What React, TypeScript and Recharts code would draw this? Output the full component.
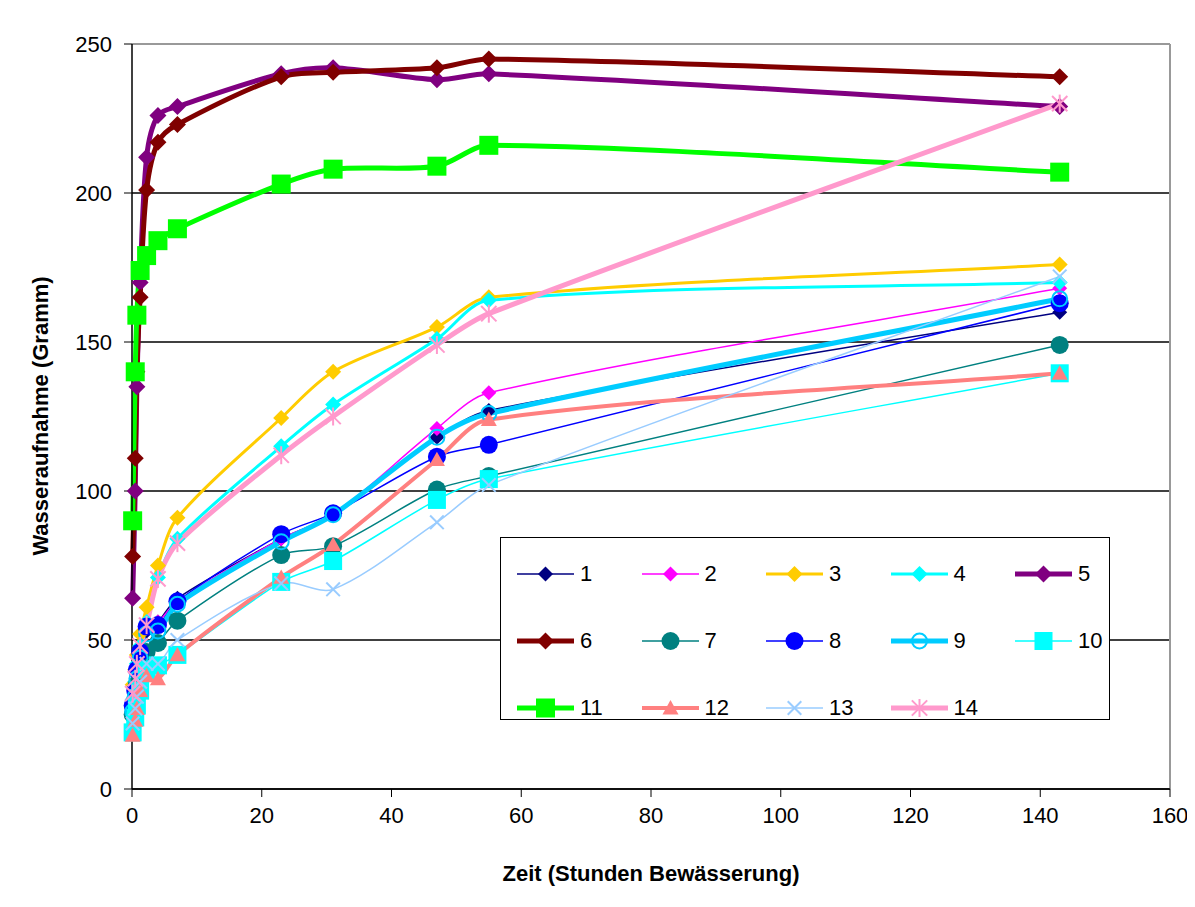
import React from "react";
import { LineChart, Line, XAxis, YAxis, CartesianGrid, ReferenceLine } from "recharts";

// hours of irrigation at each weighing
const hours = [0.1, 0.5, 0.75, 1.25, 2.25, 4, 7, 23, 31, 47, 55, 143];

// water uptake (gram) per sample
const s1 = [28, 33, 38, 45, 53, 56, 64, 84, 92, 118, 127, 160];
const s2 = [30, 35, 40, 46, 54, 56, 63, 84, 92, 121, 133, 168];
const s3 = [35, 40, 45, 52, 61, 75, 91, 124.5, 140, 155, 165, 176];
const s4 = [30, 36, 42, 48, 56, 71, 84, 115, 129, 151, 164, 170];
const s5 = [64, 100, 135, 170, 212, 226, 229, 240, 242, 238, 240, 229];
const s6 = [78, 111, 140, 165, 201, 217, 223, 239, 240.5, 242, 245, 239];
const s7 = [25, 30, 35, 41, 46, 49, 56.5, 78.5, 81.5, 100.5, 105, 149];
const s8 = [28, 33, 40, 46, 54.5, 55, 63, 85.5, 92.5, 111.5, 115.5, 163];
const s9 = [26, 31, 37, 44, 52, 53, 62, 83, 92, 118, 126, 164.5];
const s10 = [19, 24, 28, 33, 40, 41.5, 45, 69.5, 76.5, 97, 104, 139.5];
const s11 = [90, 140, 159, 174, 179, 184, 188, 203, 208, 209, 216, 207];
const s12 = [18, 23, 27, 33, 38, 37, 45, 71, 82, 110.5, 124, 139.5];
const s13 = [22, 27, 31, 36, 42, 42, 50, 69, 67, 89.5, 102, 172];
const s14 = [32, 37, 42, 48, 55, 70.5, 82.5, 112, 125, 149, 159.5, 230];

const xTicks = [0, 20, 40, 60, 80, 100, 120, 140, 160];
const yTicks = [0, 50, 100, 150, 200, 250];

const FONT = "'Liberation Sans', Arial, sans-serif";

type Shape = "diamond" | "circle" | "ring" | "square" | "triangle" | "cross" | "star";

const series: { key: string; name: string; values: number[]; color: string; width: number; shape: Shape; size: number }[] = [
  { key: "s1", name: "1", values: s1, color: "#000080", width: 1.5, shape: "diamond", size: 15 },
  { key: "s2", name: "2", values: s2, color: "#ff00ff", width: 1.5, shape: "diamond", size: 15 },
  { key: "s3", name: "3", values: s3, color: "#ffcc00", width: 3, shape: "diamond", size: 16 },
  { key: "s4", name: "4", values: s4, color: "#00ffff", width: 3, shape: "diamond", size: 16 },
  { key: "s5", name: "5", values: s5, color: "#800080", width: 5, shape: "diamond", size: 17 },
  { key: "s6", name: "6", values: s6, color: "#800000", width: 5, shape: "diamond", size: 17 },
  { key: "s7", name: "7", values: s7, color: "#008080", width: 1.5, shape: "circle", size: 18 },
  { key: "s8", name: "8", values: s8, color: "#0000ff", width: 1.5, shape: "circle", size: 18 },
  { key: "s9", name: "9", values: s9, color: "#00ccff", width: 5, shape: "ring", size: 18 },
  { key: "s10", name: "10", values: s10, color: "#00ffff", width: 1.5, shape: "square", size: 18 },
  { key: "s11", name: "11", values: s11, color: "#00ff00", width: 5, shape: "square", size: 19 },
  { key: "s12", name: "12", values: s12, color: "#ff8080", width: 4, shape: "triangle", size: 16 },
  { key: "s13", name: "13", values: s13, color: "#99ccff", width: 1.5, shape: "cross", size: 16 },
  { key: "s14", name: "14", values: s14, color: "#ff99cc", width: 5, shape: "star", size: 18 },
];

const rows = hours.map((h, i) => {
  const row: Record<string, number> = { h };
  series.forEach((s) => (row[s.key] = s.values[i]));
  return row;
});

// Excel-like smoothed line: tangent from neighbours, handle length from segment length
function smoothCurve(context: any) {
  let pts: [number, number][] = [];
  return {
    areaStart() {},
    areaEnd() {},
    lineStart() {
      pts = [];
    },
    point(x: number, y: number) {
      pts.push([+x, +y]);
    },
    lineEnd() {
      const n = pts.length;
      if (!n) return;
      context.moveTo(pts[0][0], pts[0][1]);
      if (n === 1) return;
      const tang = pts.map((_, i) => {
        const a = pts[Math.max(0, i - 1)];
        const b = pts[Math.min(n - 1, i + 1)];
        const dx = b[0] - a[0];
        const dy = b[1] - a[1];
        const l = Math.hypot(dx, dy) || 1;
        return [dx / l, dy / l];
      });
      for (let i = 0; i < n - 1; i++) {
        const p = pts[i];
        const q = pts[i + 1];
        const L = Math.hypot(q[0] - p[0], q[1] - p[1]) * 0.3;
        context.bezierCurveTo(
          p[0] + tang[i][0] * L,
          p[1] + tang[i][1] * L,
          q[0] - tang[i + 1][0] * L,
          q[1] - tang[i + 1][1] * L,
          q[0],
          q[1]
        );
      }
    },
  };
}

function Marker({ shape, color, size, x, y }: { shape: Shape; color: string; size: number; x: number; y: number }) {
  const r = size / 2;
  if (shape === "diamond")
    return <polygon points={`${x},${y - r} ${x + r},${y} ${x},${y + r} ${x - r},${y}`} fill={color} />;
  if (shape === "circle") return <circle cx={x} cy={y} r={r} fill={color} />;
  if (shape === "ring") return <circle cx={x} cy={y} r={r - 1.5} fill="none" stroke={color} strokeWidth={2} />;
  if (shape === "square") return <rect x={x - r} y={y - r} width={size} height={size} fill={color} />;
  if (shape === "triangle")
    return <polygon points={`${x},${y - r} ${x + r},${y + r * 0.8} ${x - r},${y + r * 0.8}`} fill={color} />;
  const d = r * 0.85;
  return (
    <g stroke={color} strokeWidth={2}>
      <line x1={x - d} y1={y - d} x2={x + d} y2={y + d} />
      <line x1={x - d} y1={y + d} x2={x + d} y2={y - d} />
      {shape === "star" && <line x1={x} y1={y - r} x2={x} y2={y + r} />}
    </g>
  );
}

function LegendBox() {
  const cols = 5;
  return (
    <div
      style={{
        position: "absolute",
        left: 492,
        top: 529,
        width: 608,
        height: 181,
        border: "1.5px solid #000",
        background: "#fff",
        fontFamily: FONT,
        fontSize: 22,
      }}
    >
      {series.map((s, i) => {
        const col = i % cols;
        const row = Math.floor(i / cols);
        return (
          <div
            key={s.key}
            style={{
              position: "absolute",
              left: 16 + col * 124.5,
              top: 36 + row * 67 - 14,
              height: 28,
              display: "flex",
              alignItems: "center",
            }}
          >
            <svg width={58} height={28}>
              <line x1={0} y1={14} x2={57} y2={14} stroke={s.color} strokeWidth={s.width} />
              <Marker shape={s.shape} color={s.color} size={s.size} x={28.5} y={14} />
            </svg>
            <span style={{ marginLeft: 5 }}>{s.name}</span>
          </div>
        );
      })}
    </div>
  );
}

export default function App() {
  return (
    <div style={{ position: "relative", width: 1187, height: 896 }}>
      <div
        style={{
          position: "absolute",
          left: -1,
          top: -2,
          width: 1210,
          height: 898,
          border: "1.5px solid #000",
        }}
      />
      <LineChart
        width={1180}
        height={890}
        data={rows}
        margin={{ top: 36, right: 18, left: 0, bottom: 49 }}
        style={{ fontFamily: FONT }}
      >
        <CartesianGrid vertical={false} stroke="#000" strokeWidth={1.5} strokeOpacity={1} />
        <XAxis
          dataKey="h"
          type="number"
          domain={[0, 160]}
          ticks={xTicks}
          height={60}
          tickSize={8}
          tickMargin={10}
          axisLine={{ stroke: "#000", strokeWidth: 1.5 }}
          tickLine={{ stroke: "#000" }}
          tick={{ fontSize: 22, fill: "#000", fontFamily: FONT }}
          label={{
            content: () => (
              <text x={643} y={865} textAnchor="middle" dominantBaseline="central" fontSize={22} fontWeight="bold" fontFamily={FONT}>
                Zeit (Stunden Bewässerung)
              </text>
            ),
          }}
        />
        <YAxis
          type="number"
          domain={[0, 250]}
          ticks={yTicks}
          width={124}
          tickSize={8}
          tickMargin={12}
          axisLine={{ stroke: "#000", strokeWidth: 1.5 }}
          tickLine={{ stroke: "#000" }}
          tick={{ fontSize: 22, fill: "#000", fontFamily: FONT }}
          label={{
            content: () => (
              <text
                x={32}
                y={408}
                transform="rotate(-90 32 408)"
                textAnchor="middle"
                dominantBaseline="central"
                fontSize={22}
                fontWeight="bold"
                fontFamily={FONT}
              >
                Wasseraufnahme (Gramm)
              </text>
            ),
          }}
        />
        <ReferenceLine y={250} stroke="#999" strokeWidth={2} />
        <ReferenceLine x={160} stroke="#999" strokeWidth={2} />
        {series.map((s) => (
          <Line
            key={s.key}
            dataKey={s.key}
            name={s.name}
            type={smoothCurve as any}
            stroke={s.color}
            strokeWidth={s.width}
            activeDot={false}
            isAnimationActive={false}
            dot={(p: any) => (
              <Marker key={`${s.key}-${p.index}`} shape={s.shape} color={s.color} size={s.size} x={p.cx} y={p.cy} />
            )}
          />
        ))}
      </LineChart>
      <LegendBox />
    </div>
  );
}
